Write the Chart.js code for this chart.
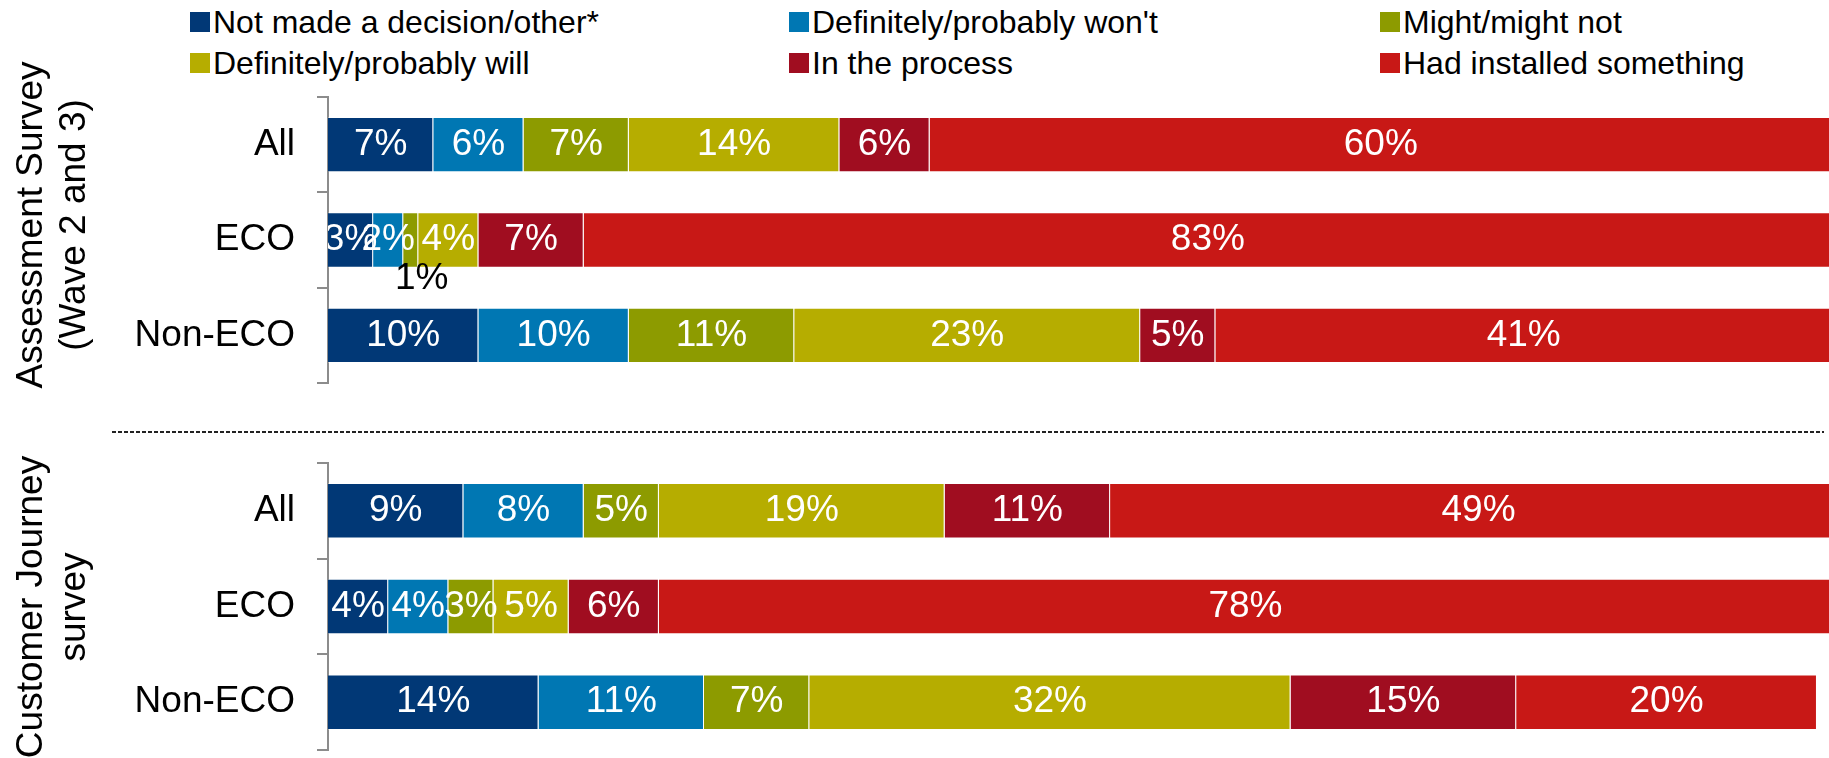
<!DOCTYPE html>
<html>
<head>
<meta charset="utf-8">
<title>Installation intentions by survey</title>
<script src="https://cdn.jsdelivr.net/npm/chart.js@4.4.1/dist/chart.umd.min.js"></script>
<style>
  html, body { margin: 0; padding: 0; background: #fff; width: 1829px; height: 758px; overflow: hidden; }
  #page { position: relative; width: 1829px; height: 758px; overflow: hidden; }
  canvas { position: absolute; left: 0; }
  #legend { position: absolute; left: 0; top: 0; width: 1829px; height: 90px;
            font-family: Arial, "Liberation Sans", sans-serif; font-size: 32px; color: #000; }
  .item { position: absolute; height: 40px; display: flex; align-items: center; white-space: nowrap; }
  .swatch { width: 20px; height: 20px; margin-right: 3px; flex: none; }
  #divider { position: absolute; left: 112px; width: 1712px; top: 431px; height: 2px;
             background: repeating-linear-gradient(90deg, #222 0 4px, transparent 4px 6px); }
</style>
</head>
<body>
<div id="page">
  <div id="legend"></div>
  <canvas id="assessment" width="1846" height="400" style="top:0px"></canvas>
  <div id="divider"></div>
  <canvas id="journey" width="1846" height="338" style="top:420px"></canvas>
</div>
<script>
// Answer options (stack order, left to right) and their colours
const seriesNames = [
  'Not made a decision/other*',
  "Definitely/probably won't",
  'Might/might not',
  'Definitely/probably will',
  'In the process',
  'Had installed something'
];
const seriesColors = ['#013876', '#0077B3', '#8D9B00', '#B6AD00', '#A00D20', '#C81816'];

// Respondent groups, top to bottom
const categories = ['All', 'ECO', 'Non-ECO'];

// Assessment Survey (Wave 2 and 3), % of respondents
const assessmentNotDecided = [7, 3, 10];
const assessmentWont       = [6, 2, 10];
const assessmentMight      = [7, 1, 11];
const assessmentWill       = [14, 4, 23];
const assessmentInProcess  = [6, 7, 5];
const assessmentInstalled  = [60, 83, 41];

// Customer Journey survey, % of respondents
const journeyNotDecided = [9, 4, 14];
const journeyWont       = [8, 4, 11];
const journeyMight      = [5, 3, 7];
const journeyWill       = [19, 5, 32];
const journeyInProcess  = [11, 6, 15];
const journeyInstalled  = [49, 78, 20];

const assessmentTitle = ['Assessment Survey', '(Wave 2 and 3)'];
const journeyTitle = ['Customer Journey', 'survey'];

// Labels too small for their segment are written under the bar instead
const assessmentLabelsBelow = [{ series: 'Might/might not', category: 'ECO' }];

const FONT = 'Arial, "Liberation Sans", sans-serif';

// ---- legend (three columns, two rows) ----
const legendCols = [190, 789, 1380];
const legendRows = [22, 63];
const legendEl = document.getElementById('legend');
seriesNames.forEach((name, i) => {
  const item = document.createElement('div');
  item.className = 'item';
  item.style.left = legendCols[i % 3] + 'px';
  item.style.top = (legendRows[Math.floor(i / 3)] - 20) + 'px';
  const sw = document.createElement('span');
  sw.className = 'swatch';
  sw.style.background = seriesColors[i];
  const tx = document.createElement('span');
  tx.textContent = name;
  item.appendChild(sw);
  item.appendChild(tx);
  legendEl.appendChild(item);
});

// ---- plugins ----
// Value labels centred in each segment
const segmentLabels = {
  id: 'segmentLabels',
  afterDatasetsDraw(chart, args, opts) {
    const { ctx, chartArea } = chart;
    const below = opts.below || [];
    chart.data.datasets.forEach((ds, di) => {
      const meta = chart.getDatasetMeta(di);
      meta.data.forEach((bar, i) => {
        const text = ds.data[i] + '%';
        const cx = (bar.x + bar.base) / 2;
        const isBelow = below.some(b => b.series === ds.label && b.category === chart.data.labels[i]);
        ctx.save();
        ctx.font = '37px ' + FONT;
        ctx.textAlign = 'center';
        ctx.textBaseline = 'middle';
        if (isBelow) {
          ctx.fillStyle = '#000';
          ctx.fillText(text, cx + 11, bar.y + bar.height / 2 + 11);
        } else {
          ctx.beginPath();
          ctx.rect(chartArea.left, chartArea.top, chartArea.right - chartArea.left, chartArea.bottom - chartArea.top);
          ctx.clip();
          ctx.fillStyle = '#fff';
          ctx.fillText(text, cx, bar.y);
        }
        ctx.restore();
      });
    });
  }
};

// Rotated two-line group title at the left edge
const groupTitle = {
  id: 'groupTitle',
  afterDraw(chart, args, opts) {
    const ctx = chart.ctx;
    ctx.save();
    ctx.font = '37px ' + FONT;
    ctx.fillStyle = '#000';
    ctx.textAlign = 'center';
    ctx.textBaseline = 'alphabetic';
    ctx.translate(0, opts.centerY);
    ctx.rotate(-Math.PI / 2);
    opts.lines.forEach((line, k) => ctx.fillText(line, 0, opts.baselines[k]));
    ctx.restore();
  }
};

function buildChart(canvasId, values, title, centerY, padTop, padBottom, below) {
  const datasets = values.map((arr, i) => ({
    label: seriesNames[i],
    data: arr,
    backgroundColor: seriesColors[i],
    borderColor: 'rgba(255,255,255,0.3)',
    borderWidth: 1,
    borderSkipped: 'start',
    categoryPercentage: 1,
    barPercentage: 0.58
  }));
  return new Chart(document.getElementById(canvasId), {
    type: 'bar',
    data: { labels: categories, datasets },
    plugins: [segmentLabels, groupTitle],
    options: {
      indexAxis: 'y',
      responsive: false,
      animation: false,
      layout: { padding: { left: 0, right: 14, top: padTop, bottom: padBottom } },
      plugins: {
        legend: { display: false },
        tooltip: { enabled: false },
        segmentLabels: { below },
        groupTitle: { lines: title, centerY, baselines: [42, 85] }
      },
      scales: {
        x: { stacked: true, min: 0, max: 100, display: false },
        y: {
          stacked: true,
          offset: true,
          afterFit(scale) {
            scale.width = 328;
            scale.paddingTop = 0;
            scale.paddingBottom = 0;
          },
          border: { display: true, color: '#8c8c8c', width: 2 },
          grid: { offset: true, drawOnChartArea: false, drawTicks: true, tickLength: 11, color: '#8c8c8c', lineWidth: 2 },
          ticks: { color: '#000', font: { size: 37, family: FONT }, padding: 22, autoSkip: false }
        }
      }
    }
  });
}

buildChart('assessment',
  [assessmentNotDecided, assessmentWont, assessmentMight, assessmentWill, assessmentInProcess, assessmentInstalled],
  assessmentTitle, 225, 97, 17, assessmentLabelsBelow);

buildChart('journey',
  [journeyNotDecided, journeyWont, journeyMight, journeyWill, journeyInProcess, journeyInstalled],
  journeyTitle, 187, 43, 8, []);
</script>
</body>
</html>
